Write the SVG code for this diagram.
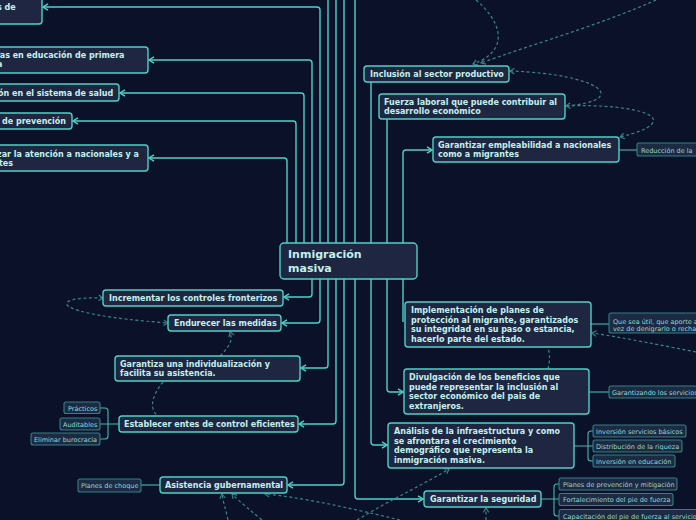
<svg xmlns="http://www.w3.org/2000/svg" width="696" height="520" viewBox="0 0 696 520">
<style>
.n{fill:#1e2642;stroke:#4fd1c5;stroke-width:1.4}
.t{font-family:"DejaVu Sans",sans-serif;font-weight:bold;font-size:8px;fill:#c4f1ec}
.m{font-family:"DejaVu Sans",sans-serif;font-weight:bold;font-size:11px;fill:#c4f1ec}
.l{fill:#1c2a44;stroke:#367f83;stroke-width:1.1}
.lt{font-family:"DejaVu Sans",sans-serif;font-size:6.5px;fill:#93d9d2}
.c{fill:none;stroke:#4fd1c5;stroke-width:1.4}
.cl{fill:none;stroke:#46b8b0;stroke-width:1.1}
.d{fill:none;stroke:#3b8589;stroke-width:1.2;stroke-dasharray:3 2.5}
</style>
<defs>
<marker id="a" viewBox="0 0 8 8" refX="7" refY="4" markerWidth="8" markerHeight="8" markerUnits="userSpaceOnUse" orient="auto"><path d="M2,0.8 L7,4 L2,7.2" fill="none" stroke="#4fd1c5" stroke-width="1.4"/></marker>
<marker id="ad" viewBox="0 0 8 8" refX="7" refY="4" markerWidth="7" markerHeight="7" markerUnits="userSpaceOnUse" orient="auto-start-reverse"><path d="M2,0.8 L7,4 L2,7.2" fill="none" stroke="#3b8589" stroke-width="1.3"/></marker>
</defs>
<rect width="696" height="520" fill="#0b1129"/>
<g id="connectors">
<path class="c" d="M320,243 V10 Q320,7 317,7 H43" marker-end="url(#a)"/>
<path class="c" d="M312,243 V63 Q312,60 309,60 H149" marker-end="url(#a)"/>
<path class="c" d="M304,243 V96 Q304,93 301,93 H120" marker-end="url(#a)"/>
<path class="c" d="M296,243 V124 Q296,121 293,121 H73" marker-end="url(#a)"/>
<path class="c" d="M287,243 V161 Q287,158 284,158 H149" marker-end="url(#a)"/>
<path class="c" d="M328,243 V0 M336,243 V0 M344,243 V0 M355,243 V0"/>
<path class="c" d="M371,243 V82 M387,243 V119"/>
<path class="c" d="M403,243 V153 Q403,150 406,150 H432" marker-end="url(#a)"/>
<path class="c" d="M312,279 V294 Q312,297 309,297 H284" marker-end="url(#a)"/>
<path class="c" d="M320,279 V320 Q320,323 317,323 H282" marker-end="url(#a)"/>
<path class="c" d="M328,279 V365 Q328,368 325,368 H301" marker-end="url(#a)"/>
<path class="c" d="M336,279 V421 Q336,424 333,424 H299" marker-end="url(#a)"/>
<path class="c" d="M344,279 V482 Q344,485 341,485 H288" marker-end="url(#a)"/>
<path class="c" d="M355,279 V496 Q355,499 358,499 H423" marker-end="url(#a)"/>
<path class="c" d="M371,279 V442 Q371,445 374,445 H387" marker-end="url(#a)"/>
<path class="c" d="M387,279 V389 Q387,392 390,392 H403" marker-end="url(#a)"/>
<path class="c" d="M403,279 V322"/>
<path class="cl" d="M619,150 H637"/>
<path class="cl" d="M591,324 H609"/>
<path class="cl" d="M589,392 H609"/>
<path class="cl" d="M574,446 H593 M593,431 H591 Q588,431 588,434 V458 Q588,461 591,461 H593"/>
<path class="cl" d="M541,499 H559 M559,484 H557 Q554,484 554,487 V513 Q554,516 557,516 H559"/>
<path class="cl" d="M119,424 H100 M100,408 H105 Q108,408 108,411 V436 Q108,439 105,439 H100"/>
<path class="cl" d="M160,485 H141"/>
<path class="d" d="M476,0 C500,20 512,50 473,64" marker-end="url(#ad)"/>
<path class="d" d="M656,0 C600,25 530,45 481,63" marker-end="url(#ad)"/>
<path class="d" d="M510,71 C600,74 632,100 566,106" marker-start="url(#ad)" marker-end="url(#ad)"/>
<path class="d" d="M566,106 C640,103 690,120 620,137" marker-end="url(#ad)"/>
<path class="d" d="M696,352 C660,345 620,337 592,333" marker-end="url(#ad)"/>
<path class="d" d="M548,369 C550,360 550,355 548,348"/>
<path class="d" d="M103,298 C48,296 45,314 168,323" marker-start="url(#ad)" marker-end="url(#ad)"/>
<path class="d" d="M220,356 C230,346 233,340 230,332" marker-end="url(#ad)"/>
<path class="d" d="M163,382 C150,398 150,410 158,416"/>
<path class="d" d="M228,520 C226,510 223,502 222,494" marker-end="url(#ad)"/>
<path class="d" d="M262,520 C250,510 240,502 232,494" marker-end="url(#ad)"/>
<path class="d" d="M400,520 C350,508 300,497 265,494" marker-end="url(#ad)"/>
<path class="d" d="M357,520 C390,500 430,481 449,469" marker-end="url(#ad)"/>
<path class="d" d="M486,520 V508" marker-end="url(#ad)"/>
</g>
<g id="main"><rect class="n" x="280" y="243" width="137" height="36" rx="4"/><text class="m" x="288" y="258">Inmigración</text><text class="m" x="288" y="272">masiva</text></g>
<g id="nA"><rect class="n" x="-10" y="-10" width="52" height="34" rx="3"/><text class="t" x="-3" y="10">s de</text></g>
<g id="nB"><rect class="n" x="-10" y="47" width="158" height="26" rx="3"/><text class="t" x="-3" y="57.5">ías en educación de primera</text><text class="t" x="-3" y="67">a</text></g>
<g id="nC"><rect class="n" x="-10" y="84" width="129" height="17" rx="3"/><text class="t" x="-2" y="96">ón en el sistema de salud</text></g>
<g id="nD"><rect class="n" x="-10" y="113" width="82" height="16" rx="3"/><text class="t" x="2" y="124">de prevención</text></g>
<g id="nE"><rect class="n" x="-10" y="145" width="158" height="26" rx="3"/><text class="t" x="-3" y="156.5">zar la atención a nacionales y a</text><text class="t" x="-1" y="166">tes</text></g>
<g id="inclusion"><rect class="n" x="364" y="66" width="145" height="16" rx="3"/><text class="t" x="370" y="77">Inclusión al sector productivo</text></g>
<g id="fuerza"><rect class="n" x="379" y="94" width="186" height="25" rx="3"/><text class="t" x="384" y="105">Fuerza laboral que puede contribuir al</text><text class="t" x="384" y="114">desarrollo económico</text></g>
<g id="empleabilidad"><rect class="n" x="433" y="137" width="186" height="25" rx="3"/><text class="t" x="438" y="148">Garantizar empleabilidad a nacionales</text><text class="t" x="438" y="157">como a migrantes</text></g>
<g id="reduccion"><rect class="l" x="637" y="143" width="70" height="13" rx="2"/><text class="lt" x="641" y="152.5">Reducción de la</text></g>
<g id="implementacion"><rect class="n" x="405" y="302" width="186" height="45" rx="3"/><text class="t" x="411" y="313">Implementación de planes de</text><text class="t" x="411" y="322.5">protección al migrante, garantizados</text><text class="t" x="411" y="332">su integridad en su paso o estancia,</text><text class="t" x="411" y="341.5">hacerlo parte del estado.</text></g>
<g id="quesea"><rect class="l" x="609" y="313" width="100" height="20" rx="2"/><text class="lt" x="613" y="323.5">Que sea útil, que aporte a</text><text class="lt" x="613" y="330.5">vez de denigrarlo o recha</text></g>
<g id="divulgacion"><rect class="n" x="404" y="369" width="185" height="45" rx="3"/><text class="t" x="409" y="380">Divulgación de los beneficios que</text><text class="t" x="409" y="389.5">puede representar la inclusión al</text><text class="t" x="409" y="399">sector económico del pais de</text><text class="t" x="409" y="408.5">extranjeros.</text></g>
<g id="garantizando"><rect class="l" x="609" y="386" width="100" height="12" rx="2"/><text class="lt" x="612" y="394.5">Garantizando los servicios</text></g>
<g id="analisis"><rect class="n" x="388" y="423" width="186" height="45" rx="3"/><text class="t" x="394" y="434">Análisis de la infraestructura y como</text><text class="t" x="394" y="443.5">se afrontara el crecimiento</text><text class="t" x="394" y="453">demográfico que representa la</text><text class="t" x="394" y="462.5">inmigración masiva.</text></g>
<g id="inv1"><rect class="l" x="593" y="425" width="93" height="12" rx="2"/><text class="lt" x="596" y="433.5">Inversión servicios básicos</text></g>
<g id="dist"><rect class="l" x="593" y="440" width="89" height="12" rx="2"/><text class="lt" x="596" y="448.5">Distribución de la riqueza</text></g>
<g id="inv2"><rect class="l" x="593" y="455" width="82" height="12" rx="2"/><text class="lt" x="596" y="463.5">Inversión en educación</text></g>
<g id="seguridad"><rect class="n" x="424" y="491" width="117" height="16" rx="3"/><text class="t" x="430" y="502">Garantizar la seguridad</text></g>
<g id="planesprev"><rect class="l" x="559" y="478" width="118" height="12" rx="2"/><text class="lt" x="563" y="486.5">Planes de prevención y mitigación</text></g>
<g id="fortalecimiento"><rect class="l" x="559" y="493.5" width="114" height="12" rx="2"/><text class="lt" x="563" y="502">Fortalecimiento del pie de fuerza</text></g>
<g id="capacitacion"><rect class="l" x="559" y="509.5" width="150" height="13" rx="2"/><text class="lt" x="563" y="518.5">Capacitación del pie de fuerza al servicio</text></g>
<g id="incrementar"><rect class="n" x="103" y="290" width="180" height="16" rx="3"/><text class="t" x="109" y="301">Incrementar los controles fronterizos</text></g>
<g id="endurecer"><rect class="n" x="168" y="315" width="113" height="16" rx="3"/><text class="t" x="174" y="326">Endurecer las medidas</text></g>
<g id="garantiza"><rect class="n" x="115" y="356" width="185" height="25" rx="3"/><text class="t" x="120" y="367">Garantiza una individualización y</text><text class="t" x="120" y="376">facilita su asistencia.</text></g>
<g id="establecer"><rect class="n" x="119" y="416" width="179" height="16" rx="3"/><text class="t" x="124" y="427">Establecer entes de control eficientes</text></g>
<g id="practicos"><rect class="l" x="64" y="402" width="36" height="11.5" rx="2"/><text class="lt" x="68" y="410.5">Prácticos</text></g>
<g id="auditables"><rect class="l" x="60" y="418" width="40" height="12" rx="2"/><text class="lt" x="63" y="426.5">Auditables</text></g>
<g id="eliminar"><rect class="l" x="31" y="433" width="69" height="12" rx="2"/><text class="lt" x="34" y="441.5">Eliminar burocracia</text></g>
<g id="asistencia"><rect class="n" x="160" y="477" width="127" height="16" rx="3"/><text class="t" x="165" y="488">Asistencia gubernamental</text></g>
<g id="choque"><rect class="l" x="78" y="479" width="63" height="13" rx="2"/><text class="lt" x="81" y="488">Planes de choque</text></g>
</svg>
